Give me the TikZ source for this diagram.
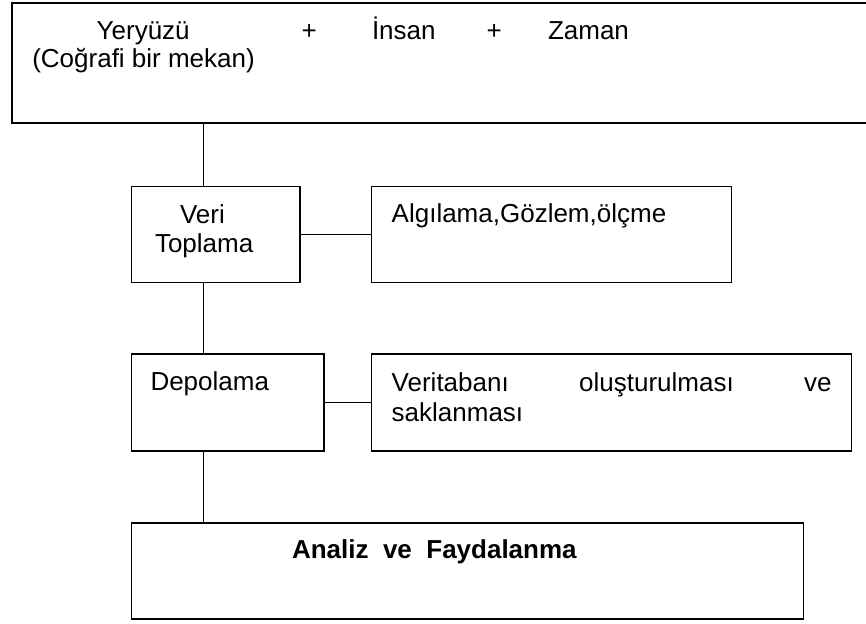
\documentclass[tikz,border=0pt]{standalone}
\usepackage{fontspec}
\setmainfont{Liberation Sans}
\begin{document}
\begin{tikzpicture}[x=1pt,y=-1pt,
  box/.style={draw, rectangle, inner sep=0pt, outer sep=0pt, line width=1.2pt, anchor=north west},
  txt/.style={inner sep=0pt, outer sep=0pt, anchor=base west, font=\fontsize{26}{30}\selectfont},
  link/.style={draw, line width=1.2pt}]
\useasboundingbox (0,0) rectangle (866,623);

% frames (the top one runs past the right edge of the page)
\node[box, line width=2pt, minimum width=890pt, minimum height=120pt] (world) at (12,3) {};
\node[box, minimum width=168.3pt, minimum height=95.6pt] (collect) at (131.7,186.7) {};
\node[box, minimum width=360pt, minimum height=95.6pt] (sense) at (371.7,186.7) {};
\node[box, minimum width=192.3pt, minimum height=97pt] (store) at (131.7,354) {};
\node[box, minimum width=480pt, minimum height=97pt] (db) at (371.7,354) {};
\node[box, line width=1.5pt, minimum width=672pt, minimum height=96pt] (use) at (131.7,523) {};

% labels
\node[txt] (yer) at (96.7,39.3) {Yeryüzü};
\node[txt] (cog) at (32.3,67.5) {(Coğrafi bir mekan)};
\node[txt] (plusA) at (301.5,39.3) {+};
\node[txt] (ins) at (372,39.3) {İnsan};
\node[txt] (plusB) at (486.5,39.3) {+};
\node[txt] (zam) at (548,39.3) {Zaman};
\node[txt] (veri) at (180,223.3) {Veri};
\node[txt] (topl) at (155,252.7) {Toplama};
\node[txt] (alg) at (391.7,222) {Algılama,Gözlem,ölçme};
\node[txt] (depo) at (150.5,390.7) {Depolama};
\node[txt] (vt1) at (391.7,391) {\makebox[440pt][s]{Veritabanı oluşturulması ve}};
\node[txt] (vt2) at (391.7,421) {saklanması};
\node[txt, font=\fontsize{26}{30}\selectfont\bfseries] (anl) at (292,558) {Analiz\ \ ve\ \ Faydalanma};

% connectors
\coordinate (spine) at (203.3,0);
\draw[link] (spine |- world.south) -- (spine |- collect.north);
\draw[link] (spine |- collect.south) -- (spine |- store.north);
\draw[link] (spine |- store.south) -- (spine |- use.north);
\draw[link] (collect.east) -- (sense.west);
\draw[link] (store.east) -- (db.west);
\end{tikzpicture}
\end{document}
